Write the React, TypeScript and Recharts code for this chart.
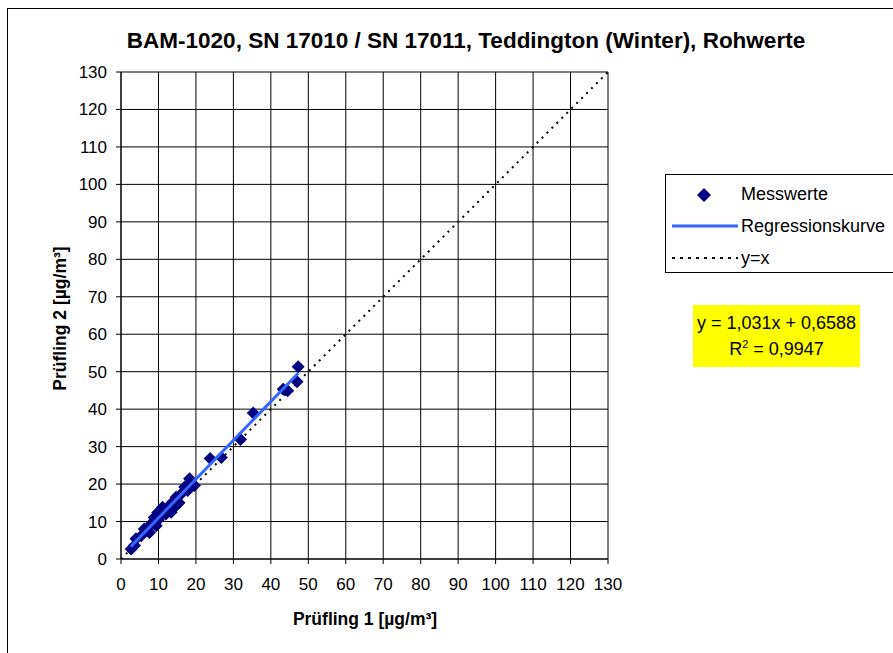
import { CartesianGrid, ReferenceLine, Scatter, ScatterChart, XAxis, YAxis } from "recharts"

// Messwerte: Prüfling 1 (x) / Prüfling 2 (y), µg/m³
const messX = [2.7, 3.6, 4.0, 5.4, 6.2, 7.6, 7.6, 8.5, 9.4, 8.9, 10.0, 10.3, 9.8, 11.6, 13.4, 11.1, 12.0, 12.5, 13.8, 14.5, 14.7, 15.5, 16.1, 17.8, 17.0, 18.8, 18.3, 19.6, 23.8, 26.8, 31.9, 35.3, 43.3, 44.5, 47.0, 47.3]
const messY = [2.7, 3.6, 5.4, 6.2, 8.0, 7.1, 8.9, 9.8, 8.9, 11.1, 10.5, 11.6, 12.4, 12.9, 12.5, 13.8, 12.0, 13.8, 15.2, 14.0, 16.5, 15.0, 17.4, 18.3, 19.2, 20.1, 21.4, 19.6, 26.8, 27.1, 31.9, 39.0, 45.3, 44.9, 47.3, 51.3]

const regX = [2.6, 47.3]
const regY = [3.3, 49.6]

// y = x
const diagFrom = 0
const diagTo = 130

const ticks = [0, 10, 20, 30, 40, 50, 60, 70, 80, 90, 100, 110, 120, 130]

const messData = messX.map((x, i) => ({ x, y: messY[i] }))
const regData = regX.map((x, i) => ({ x, y: regY[i] }))

const font = "'Liberation Sans', Arial, sans-serif"

const Diamond = (props: any) => {
    const { cx, cy } = props
    const r = 6.5
    return <polygon points={`${cx},${cy - r} ${cx + r},${cy} ${cx},${cy + r} ${cx - r},${cy}`} fill="#000080" />
}

const NoDot = () => null

export default function App() {
    return (
        <div style={{ position: "relative", width: 893, height: 653, overflow: "hidden", background: "#fff", fontFamily: font }}>
            <style>{`body{margin:0}`}</style>
            <div style={{ position: "absolute", left: 7, top: 8, width: 950, height: 700, border: "1px solid #000" }} />

            <div style={{ position: "absolute", left: 0, top: 28, width: 932, textAlign: "center", fontWeight: "bold", fontSize: 22.5 }}>
                BAM-1020, SN 17010 / SN 17011, Teddington (Winter), Rohwerte
            </div>

            <div style={{ position: "absolute", left: 0, top: 0 }}>
                <ScatterChart width={893} height={653} margin={{ top: 72, right: 285, bottom: 64, left: 60 }}>
                    <CartesianGrid stroke="#000" strokeWidth={1} horizontalValues={ticks} verticalValues={ticks} />
                    <XAxis
                        type="number"
                        dataKey="x"
                        domain={[0, 130]}
                        ticks={ticks}
                        interval={0}
                        height={30}
                        tickSize={5}
                        tickMargin={14}
                        stroke="#000"
                        tick={{ fill: "#000", fontSize: 17, fontFamily: font }}
                    />
                    <YAxis
                        type="number"
                        dataKey="y"
                        domain={[0, 130]}
                        ticks={ticks}
                        interval={0}
                        width={61}
                        tickSize={5}
                        tickMargin={9}
                        stroke="#000"
                        tick={{ fill: "#000", fontSize: 17, fontFamily: font }}
                    />
                    <Scatter name="Messwerte" data={messData} shape={<Diamond />} isAnimationActive={false} />
                    <ReferenceLine
                        segment={[{ x: diagFrom, y: diagFrom }, { x: diagTo, y: diagTo }]}
                        stroke="#000"
                        strokeWidth={2}
                        strokeDasharray="2 5"
                    />
                    <Scatter
                        name="Regressionskurve"
                        data={regData}
                        line={{ stroke: "#3366ff", strokeWidth: 3 }}
                        shape={<NoDot />}
                        isAnimationActive={false}
                    />
                </ScatterChart>
            </div>

            <div style={{ position: "absolute", left: 273, top: 609, width: 184, textAlign: "center", fontWeight: "bold", fontSize: 17.5, whiteSpace: "nowrap" }}>
                Prüfling 1 [µg/m³]
            </div>
            <div style={{ position: "absolute", left: 60, top: 319, width: 0, height: 0 }}>
                <div style={{ position: "absolute", left: -90, top: -11, width: 180, textAlign: "center", fontWeight: "bold", fontSize: 17.5, whiteSpace: "nowrap", transform: "rotate(-90deg)" }}>
                    Prüfling 2 [µg/m³]
                </div>
            </div>

            {/* Legende */}
            <div style={{ position: "absolute", left: 665, top: 174, width: 260, height: 97, border: "1px solid #000", background: "#fff", fontSize: 18 }}>
                <svg width={80} height={97} style={{ position: "absolute", left: 0, top: 0 }}>
                    <polygon points="38,13 45,20 38,27 31,20" fill="#000080" />
                    <line x1={6} y1={51} x2={72} y2={51} stroke="#3366ff" strokeWidth={3} />
                    <line x1={6} y1={83} x2={72} y2={83} stroke="#000" strokeWidth={2} strokeDasharray="3 5" />
                </svg>
                <div style={{ position: "absolute", left: 75, top: 9, whiteSpace: "nowrap" }}>Messwerte</div>
                <div style={{ position: "absolute", left: 75, top: 41, whiteSpace: "nowrap" }}>Regressionskurve</div>
                <div style={{ position: "absolute", left: 75, top: 73, whiteSpace: "nowrap" }}>y=x</div>
            </div>

            {/* Regressionsgleichung */}
            <div style={{ position: "absolute", left: 693, top: 305, width: 167, height: 62, background: "#ffff00", fontSize: 18, textAlign: "center", lineHeight: "26px", paddingTop: 5, boxSizing: "border-box" }}>
                <div>y = 1,031x + 0,6588</div>
                <div>R<sup style={{ fontSize: 11, verticalAlign: "7px", lineHeight: 0 }}>2</sup> = 0,9947</div>
            </div>
        </div>
    )
}
